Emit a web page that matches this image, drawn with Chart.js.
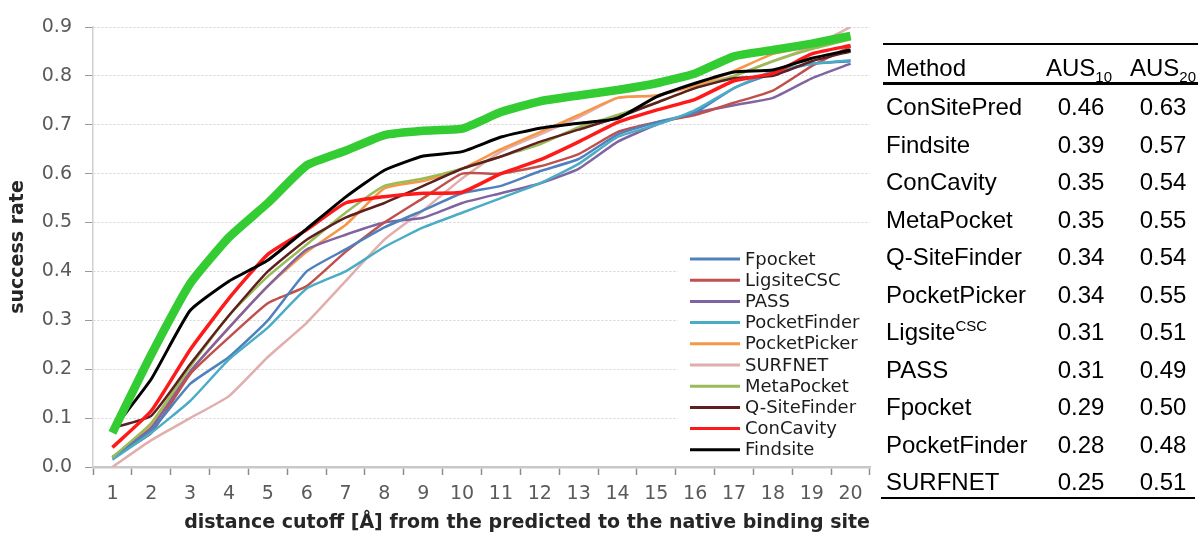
<!DOCTYPE html>
<html>
<head>
<meta charset="utf-8">
<script src="https://cdn.jsdelivr.net/npm/chart.js@4/dist/chart.umd.min.js"></script>
<style>
html, body { margin: 0; padding: 0; background: #fff; }
#wrap { position: relative; width: 1198px; height: 533px; overflow: hidden; }
#chart { position: absolute; left: 0; top: 0; }
#tbl { position: absolute; left: 0; top: 0; width: 1198px; height: 533px; font-family: "Liberation Sans", Arial, sans-serif; font-size: 24px; color: #000; }
.rule { position: absolute; background: #000; }
.cell { position: absolute; height: 38px; line-height: 38px; white-space: nowrap; }
.num { width: 90px; text-align: center; }
sub, sup { font-size: 15px; line-height: 0; }
</style>
</head>
<body>
<div id="wrap">
  <canvas id="chart" width="875" height="533"></canvas>
  <div id="tbl"></div>
</div>
<script>
// distance cutoff (Å)
const distances = ['1','2','3','4','5','6','7','8','9','10','11','12','13','14','15','16','17','18','19','20'];
const yTickLabels = ['0.0','0.1','0.2','0.3','0.4','0.5','0.6','0.7','0.8','0.9'];

// success rate per method
const fpocket      = [0.02, 0.075, 0.17, 0.225, 0.30, 0.40, 0.445, 0.49, 0.525, 0.56, 0.575, 0.605, 0.63, 0.68, 0.705, 0.725, 0.775, 0.805, 0.825, 0.83];
const ligsite      = [0.02, 0.07, 0.19, 0.265, 0.335, 0.37, 0.44, 0.50, 0.55, 0.60, 0.60, 0.615, 0.64, 0.685, 0.705, 0.72, 0.745, 0.77, 0.82, 0.86];
const pass         = [0.02, 0.08, 0.195, 0.285, 0.37, 0.445, 0.475, 0.50, 0.51, 0.54, 0.56, 0.58, 0.61, 0.665, 0.70, 0.725, 0.74, 0.755, 0.795, 0.825];
const pocketFinder = [0.015, 0.07, 0.135, 0.22, 0.285, 0.365, 0.40, 0.45, 0.49, 0.52, 0.55, 0.58, 0.62, 0.675, 0.70, 0.73, 0.775, 0.81, 0.825, 0.832];
const pocketPicker = [0.02, 0.085, 0.195, 0.285, 0.37, 0.44, 0.495, 0.57, 0.585, 0.61, 0.65, 0.685, 0.72, 0.755, 0.76, 0.78, 0.81, 0.845, 0.86, 0.875];
const surfnet      = [0.0, 0.055, 0.10, 0.145, 0.225, 0.295, 0.38, 0.465, 0.525, 0.59, 0.645, 0.68, 0.715, 0.755, 0.76, 0.78, 0.80, 0.83, 0.86, 0.90];
const metaPocket   = [0.02, 0.09, 0.205, 0.31, 0.39, 0.455, 0.52, 0.575, 0.59, 0.61, 0.635, 0.66, 0.695, 0.72, 0.745, 0.775, 0.80, 0.83, 0.855, 0.875];
const qSiteFinder  = [0.08, 0.105, 0.21, 0.31, 0.40, 0.465, 0.51, 0.54, 0.575, 0.61, 0.635, 0.665, 0.69, 0.715, 0.745, 0.775, 0.795, 0.80, 0.83, 0.85];
const conCavity    = [0.04, 0.115, 0.24, 0.345, 0.435, 0.485, 0.54, 0.553, 0.56, 0.562, 0.60, 0.628, 0.665, 0.705, 0.73, 0.752, 0.79, 0.805, 0.845, 0.862];
const findsite     = [0.075, 0.18, 0.32, 0.38, 0.423, 0.487, 0.552, 0.607, 0.636, 0.645, 0.675, 0.693, 0.703, 0.713, 0.757, 0.785, 0.808, 0.812, 0.836, 0.853];
const conSitePred  = [0.07, 0.23, 0.375, 0.47, 0.54, 0.617, 0.647, 0.679, 0.688, 0.692, 0.726, 0.748, 0.76, 0.771, 0.785, 0.805, 0.84, 0.853, 0.866, 0.882];

// table on the right
const tableMethods = ['ConSitePred','Findsite','ConCavity','MetaPocket','Q-SiteFinder','PocketPicker','Ligsite<sup>CSC</sup>','PASS','Fpocket','PocketFinder','SURFNET'];
const aus10 = ['0.46','0.39','0.35','0.35','0.34','0.34','0.31','0.31','0.29','0.28','0.25'];
const aus20 = ['0.63','0.57','0.54','0.55','0.54','0.55','0.51','0.49','0.50','0.48','0.51'];

const series = [
  { label: 'Fpocket',      data: fpocket,      color: '#4F81BD', width: 2.5, order: 6 },
  { label: 'LigsiteCSC',   data: ligsite,      color: '#C0504D', width: 2.5, order: 7 },
  { label: 'PASS',         data: pass,         color: '#8064A2', width: 2.5, order: 8 },
  { label: 'PocketFinder', data: pocketFinder, color: '#4BACC6', width: 2.5, order: 5 },
  { label: 'PocketPicker', data: pocketPicker, color: '#F79646', width: 2.5, order: 9 },
  { label: 'SURFNET',      data: surfnet,      color: '#E0AEAC', width: 2.5, order: 10 },
  { label: 'MetaPocket',   data: metaPocket,   color: '#9BBB59', width: 2.5, order: 4 },
  { label: 'Q-SiteFinder', data: qSiteFinder,  color: '#5E1F1F', width: 2.5, order: 3 },
  { label: 'ConCavity',    data: conCavity,    color: '#FF1A1A', width: 3.5, order: 2 },
  { label: 'Findsite',     data: findsite,     color: '#000000', width: 3,   order: 1 },
  { label: 'ConSitePred',  data: conSitePred,  color: '#33CC33', width: 8.5, order: 0, noLegend: true }
];

const datasets = series.map(s => ({
  label: s.label,
  data: s.data,
  borderColor: s.color,
  backgroundColor: s.color,
  borderWidth: s.width,
  pointRadius: 0,
  tension: 0.15,
  order: s.order,
  fill: false,
  noLegend: !!s.noLegend
}));

// legend sits inside the plot, lower right, on a white box
const legendBox = {
  id: 'legendBox',
  afterDatasetsDraw(chart) {
    const { ctx, chartArea } = chart;
    const left = chartArea.right - 192;
    const top = chartArea.bottom - 220;
    ctx.save();
    ctx.fillStyle = '#fff';
    ctx.fillRect(left, top, 192, 215);
    ctx.font = '18px "DejaVu Sans"';
    ctx.textBaseline = 'middle';
    let y = chartArea.bottom - 208;
    chart.data.datasets.forEach(ds => {
      if (ds.noLegend) return;
      ctx.strokeStyle = ds.borderColor;
      ctx.lineWidth = 3;
      ctx.beginPath();
      ctx.moveTo(chartArea.right - 180, y);
      ctx.lineTo(chartArea.right - 130, y);
      ctx.stroke();
      ctx.fillStyle = '#1c1c1c';
      ctx.fillText(ds.label, chartArea.right - 125, y + 1);
      y += 21.2;
    });
    ctx.restore();
  }
};

new Chart(document.getElementById('chart'), {
  type: 'line',
  data: { labels: distances, datasets },
  options: {
    responsive: false,
    animation: false,
    devicePixelRatio: 1,
    layout: { padding: { top: 27, right: 5, left: 0, bottom: 0 } },
    plugins: { legend: { display: false }, tooltip: { enabled: false } },
    scales: {
      x: {
        offset: true,
        grid: { offset: true, drawOnChartArea: false, tickLength: 8, tickColor: '#8c8c8c', tickWidth: 1.5 },
        border: { color: '#c8c8c8', width: 2.5 },
        ticks: { color: '#5a5a5a', font: { family: 'DejaVu Sans', size: 19 }, padding: 8, maxRotation: 0, autoSkip: false },
        title: {
          display: true,
          text: 'distance cutoff [Å] from the predicted to the native binding site',
          align: 'end',
          color: '#262626',
          font: { family: 'DejaVu Sans', size: 19, weight: 'bold', lineHeight: 1 },
          padding: { top: 0, bottom: 0 }
        },
        afterFit: s => { s.height = 66; }
      },
      y: {
        min: 0,
        max: 0.9,
        afterBuildTicks: s => { s.ticks = yTickLabels.map(t => ({ value: parseFloat(t) })); },
        ticks: { callback: (v, i) => yTickLabels[i], color: '#5a5a5a', font: { family: 'DejaVu Sans', size: 19 }, padding: 13 },
        grid: { color: '#d2d2d2', tickColor: '#9a9a9a', tickLength: 8, lineWidth: 1 },
        border: { color: '#d0d0d0', width: 1.5, dash: [2, 2] },
        title: {
          display: true,
          text: 'success rate',
          color: '#262626',
          font: { family: 'DejaVu Sans', size: 19, weight: 'bold', lineHeight: 1 },
          padding: { top: 9, bottom: 0 }
        },
        afterFit: s => { s.width = 93; }
      }
    }
  },
  plugins: [legendBox]
});

// table
const tbl = document.getElementById('tbl');
function rule(x, y, w, h) {
  const d = document.createElement('div');
  d.className = 'rule';
  d.style.cssText = `left:${x}px;top:${y}px;width:${w}px;height:${h}px`;
  tbl.appendChild(d);
}
function cell(html, x, cy, cls) {
  const d = document.createElement('div');
  d.className = 'cell' + (cls ? ' ' + cls : '');
  d.innerHTML = html;
  d.style.left = x + 'px';
  d.style.top = (cy - 19) + 'px';
  tbl.appendChild(d);
}
rule(883, 43, 315, 1.5);
rule(883, 82, 315, 2.5);
rule(881, 497, 314, 2);
cell('Method', 886, 68);
cell('AUS<sub>10</sub>', 1034, 68, 'num');
cell('AUS<sub>20</sub>', 1118, 68, 'num');
tableMethods.forEach((m, i) => {
  const cy = 107 + i * 37.5;
  cell(m, 886, cy);
  cell(aus10[i], 1036, cy, 'num');
  cell(aus20[i], 1118, cy, 'num');
});
</script>
</body>
</html>
